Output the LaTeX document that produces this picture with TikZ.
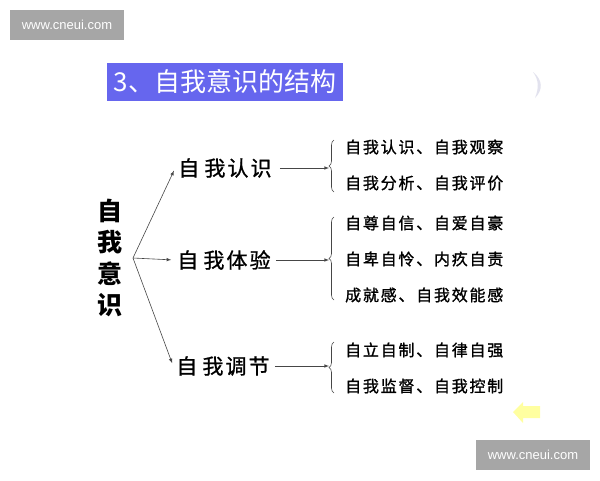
\documentclass[tikz,border=0pt]{standalone}
\usepackage{fontspec}
\setmainfont{Noto Sans CJK SC}
\newfontfamily\webfont{Liberation Sans}
\newfontfamily\kfont[LetterSpace=10, FakeBold=1]{Noto Sans CJK SC}
\newfontfamily\lfont[LetterSpace=11, FakeBold=1.2]{Noto Sans CJK SC}
\usepackage{tikz}
\usetikzlibrary{arrows,positioning,decorations.pathreplacing}
\definecolor{titleblue}{RGB}{102, 102, 238}
\definecolor{markgray}{RGB}{166, 166, 166}
\definecolor{linegray}{RGB}{70, 70, 70}
\definecolor{paleyellow}{RGB}{255, 255, 150}
\definecolor{palelilac}{RGB}{226, 226, 238}
\tikzstyle{webmark} = [fill=markgray, text=white, font=\webfont\fontsize{13}{13}\selectfont, minimum width=114pt, minimum height=30pt, inner sep=0pt]
\tikzstyle{headline} = [fill=titleblue, text=white, font=\fontsize{26}{26}\selectfont, minimum width=236pt, minimum height=38pt, inner sep=0pt]
\tikzstyle{root} = [align=center, font=\bfseries\fontsize{25}{31.5}\selectfont, inner sep=2pt]
\tikzstyle{kind} = [font=\kfont\fontsize{21}{21}\selectfont, inner sep=3pt]
\tikzstyle{item} = [anchor=west, font=\lfont\fontsize{16}{16}\selectfont, inner sep=0pt]
\tikzstyle{tedge} = [draw=linegray, line width=0.6pt, >=latex, ->]
\tikzstyle{curly} = [draw=linegray, line width=0.6pt, decorate, decoration={brace, amplitude=5pt}]

\begin{document}
\begin{tikzpicture}[x=1pt, y=-1pt]
\useasboundingbox[fill=white] (0,0) rectangle (600,480);

% marks and title =============================
\node[webmark] (mark1) at (67,25) {www.cneui.com};
\node[webmark] (mark2) at (533,455) {www.cneui.com};
\node[headline] (title) at (225,82) {3、自我意识的结构};

% decoration
\fill[palelilac] (533,72) .. controls (543,80) and (543,90) .. (535,98) .. controls (539,88) and (539,80) .. cycle;
\fill[paleyellow, opacity=0.9] (513,412) -- (523,402) -- (523,406) -- (540,406) -- (540,418) -- (523,418) -- (523,423) -- cycle;

% root
\node[root] (self) at (110,258) {自\\我\\意\\识};
\coordinate (fork) at (133,258);

% kinds
\node[kind] (know) at (225,168) {自\hspace{5pt}我认识};
\node[kind] (feel) at (224,260) {自\hspace{5pt}我体验};
\node[kind] (tune) at (223,366) {自\hspace{5pt}我调节};

% braces
\draw[curly] (334,192) -- (334,140);
\draw[curly] (334,300) -- (334,217);
\draw[curly] (334,393) -- (334,342);
\coordinate (tip1) at (329,168);
\coordinate (tip2) at (329,260);
\coordinate (tip3) at (329,366);

% items
\node[item] (a1) at (345,147) {自我认识、自我观察};
\node[item, below=36pt of a1.west, anchor=west] (a2) {自我分析、自我评价};
\node[item] (b1) at (345,223) {自尊自信、自爱自豪};
\node[item, below=36pt of b1.west, anchor=west] (b2) {自卑自怜、内疚自责};
\node[item, below=36pt of b2.west, anchor=west] (b3) {成就感、自我效能感};
\node[item] (c1) at (345,350) {自立自制、自律自强};
\node[item, below=36pt of c1.west, anchor=west] (c2) {自我监督、自我控制};

%edges
\path[tedge, shorten >=3pt] (fork) -- (know.west);
\path[tedge, shorten >=3pt] (fork) -- (feel.west);
\path[tedge, shorten >=3pt] (fork) -- (tune.west);
\path[tedge, shorten <=5pt] (know.east) -- (tip1);
\path[tedge, shorten <=2pt] (feel.east) -- (tip2);
\path[tedge, shorten <=2pt] (tune.east) -- (tip3);

\end{tikzpicture}
\end{document}
